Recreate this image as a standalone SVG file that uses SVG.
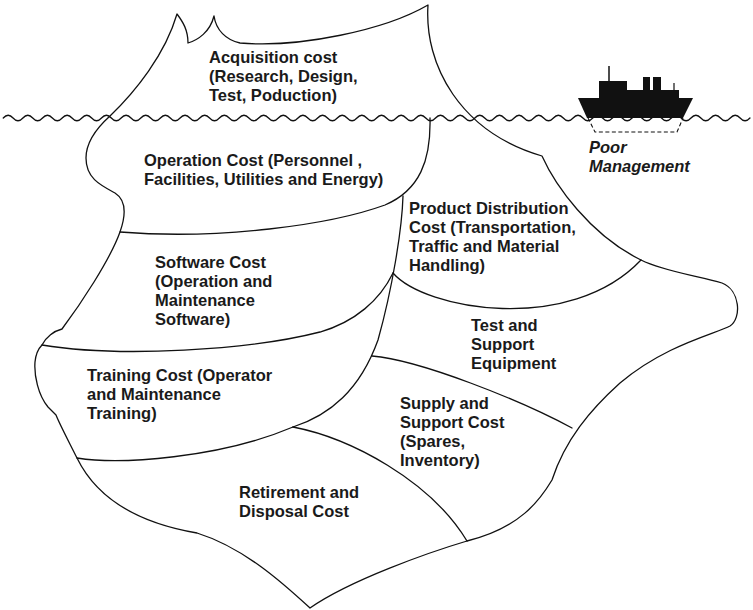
<svg xmlns="http://www.w3.org/2000/svg" width="753" height="610" viewBox="0 0 753 610">
  <style>
    .edge { fill: none; stroke: #111; stroke-width: 1.3; stroke-linejoin: round; stroke-linecap: round; }
    .label { font-family: "Liberation Sans", Arial, Helvetica, sans-serif; font-weight: bold; font-size: 16.5px; fill: #1a1a1a; }
    .italic { font-style: italic; }
    .ship { fill: #111; stroke: none; }
  </style>
  <rect width="753" height="610" fill="#fff"/>

  <!-- iceberg outline and the dividing curves between cost regions -->
  <g id="iceberg">
    <path class="edge" d="M177,14 C183,22 188,30 188,43 C198,40 210,32 214,16 C216,30 226,40 240,43
      C300,48 385,30 428,5 C424,65 460,132 542,156 C555,185 590,235 641,260
      C665,272 700,276 722,283 C740,290 742,318 730,326 C715,334 665,345 620,383
      C590,410 565,440 552,480 C540,500 520,528 467,541 C430,552 350,580 310,608
      C285,585 245,548 197,533 C150,525 100,505 77,458 C68,440 60,425 56,415 L48,407
      C38,395 34,375 35,362 C36,352 40,347 42,345 C46,337 54,331 62,329
      C80,305 110,260 120,232 C126,215 126,200 115,193 C100,185 86,178 86,158
      C86,140 100,125 110,116 C135,92 165,55 177,14 Z"/>
  </g>
  <g id="dividers">
    <path class="edge" d="M120,232 C220,240 330,225 385,205 C420,190 431,160 430,118"/>
    <path class="edge" d="M403,196 C402,230 392,290 378,340 C360,390 330,415 293,427"/>
    <path class="edge" d="M42,345 C120,358 250,350 320,332 C355,322 380,300 393,273"/>
    <path class="edge" d="M393,273 C425,310 570,335 641,260"/>
    <path class="edge" d="M372,356 C420,360 520,400 572,428"/>
    <path class="edge" d="M77,458 C120,465 220,458 293,427"/>
    <path class="edge" d="M293,427 C350,438 430,480 467,541"/>
  </g>

  <!-- ship riding on the surface, with its hidden hull dashed below -->
  <g id="ship">
    <polygon class="ship" points="578,98 693,98 683,118 587,118"/>
    <rect class="ship" x="599" y="81" width="28" height="18"/>
    <rect class="ship" x="626" y="90" width="53" height="9"/>
    <rect class="ship" x="643" y="77" width="7" height="14"/>
    <rect class="ship" x="653" y="77" width="8" height="14"/>
    <line x1="609" y1="66" x2="609" y2="82" stroke="#111" stroke-width="1.5"/>
    <line x1="674" y1="83" x2="674" y2="91" stroke="#111" stroke-width="1.2"/>
    <path d="M588,118 L595,132 L677,132 L683,118" fill="none" stroke="#111" stroke-width="1.1" stroke-dasharray="4,2.5"/>
  </g>

  <!-- water surface -->
  <g id="water">
    <path class="edge" d="M3.25,118 q4.91,-5.5 9.825,0 t9.825,0 t9.825,0 t9.825,0 t9.825,0 t9.825,0 t9.825,0 t9.825,0 t9.825,0 t9.825,0
      t9.825,0 t9.825,0 t9.825,0 t9.825,0 t9.825,0 t9.825,0 t9.825,0 t9.825,0 t9.825,0 t9.825,0
      t9.825,0 t9.825,0 t9.825,0 t9.825,0 t9.825,0 t9.825,0 t9.825,0 t9.825,0 t9.825,0 t9.825,0
      t9.825,0 t9.825,0 t9.825,0 t9.825,0 t9.825,0 t9.825,0 t9.825,0 t9.825,0 t9.825,0 t9.825,0
      t9.825,0 t9.825,0 t9.825,0 t9.825,0 t9.825,0 t9.825,0 t9.825,0 t9.825,0 t9.825,0 t9.825,0
      t9.825,0 t9.825,0 t9.825,0 t9.825,0 t9.825,0 t9.825,0 t9.825,0 t9.825,0 t9.825,0 t9.825,0
      t9.825,0 t9.825,0 t9.825,0 t9.825,0 t9.825,0 t9.825,0 t9.825,0 t9.825,0 t9.825,0 t9.825,0
      t9.825,0 t9.825,0 t9.825,0 t9.825,0 t9.825,0 t9.825,0"/>
  </g>

  <!-- region labels -->
  <g id="acquisition-cost">
    <text class="label" x="209" y="63">Acquisition cost</text>
    <text class="label" x="209" y="82">(Research, Design,</text>
    <text class="label" x="209" y="101">Test, Poduction)</text>
  </g>
  <g id="operation-cost">
    <text class="label" x="144" y="166">Operation Cost (Personnel ,</text>
    <text class="label" x="144" y="185">Facilities, Utilities and Energy)</text>
  </g>
  <g id="product-distribution-cost">
    <text class="label" x="409" y="214">Product Distribution</text>
    <text class="label" x="409" y="233">Cost (Transportation,</text>
    <text class="label" x="409" y="252">Traffic and Material</text>
    <text class="label" x="409" y="271">Handling)</text>
  </g>
  <g id="software-cost">
    <text class="label" x="155" y="268">Software Cost</text>
    <text class="label" x="155" y="287">(Operation and</text>
    <text class="label" x="155" y="306">Maintenance</text>
    <text class="label" x="155" y="325">Software)</text>
  </g>
  <g id="test-support-equipment">
    <text class="label" x="471" y="331">Test and</text>
    <text class="label" x="471" y="350">Support</text>
    <text class="label" x="471" y="369">Equipment</text>
  </g>
  <g id="training-cost">
    <text class="label" x="87" y="381">Training Cost (Operator</text>
    <text class="label" x="87" y="400">and Maintenance</text>
    <text class="label" x="87" y="419">Training)</text>
  </g>
  <g id="supply-support-cost">
    <text class="label" x="400" y="409">Supply and</text>
    <text class="label" x="400" y="428">Support Cost</text>
    <text class="label" x="400" y="447">(Spares,</text>
    <text class="label" x="400" y="466">Inventory)</text>
  </g>
  <g id="retirement-disposal-cost">
    <text class="label" x="239" y="498">Retirement and</text>
    <text class="label" x="239" y="517">Disposal Cost</text>
  </g>
  <g id="poor-management">
    <text class="label italic" x="589" y="153">Poor</text>
    <text class="label italic" x="589" y="172">Management</text>
  </g>
</svg>
